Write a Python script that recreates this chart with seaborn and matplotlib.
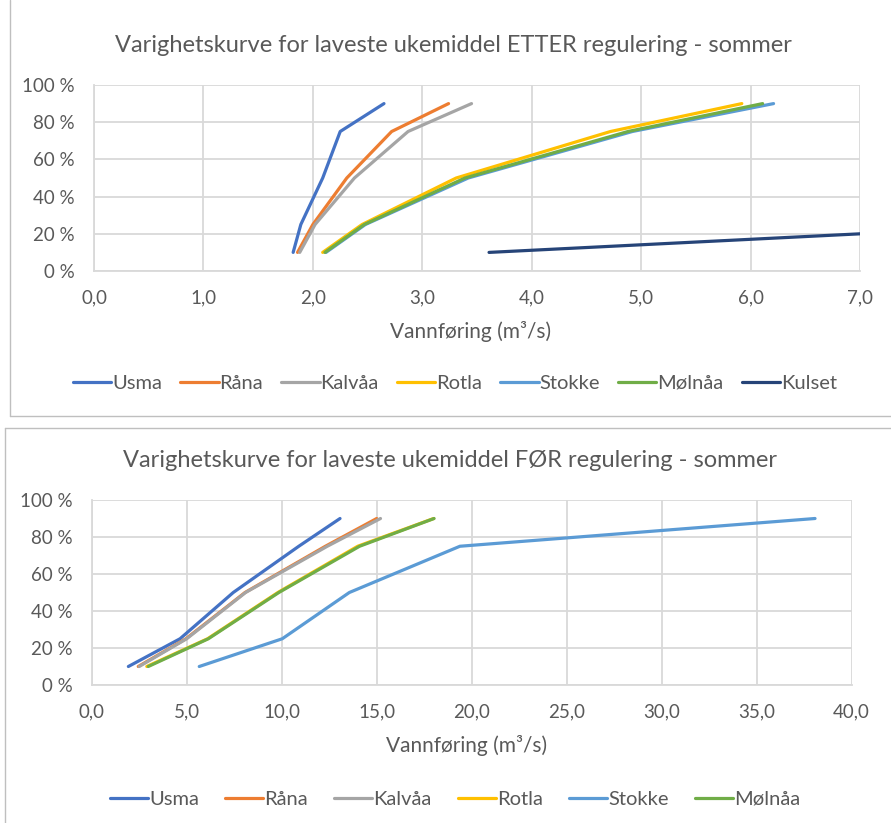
import matplotlib
matplotlib.use("Agg")
import matplotlib.pyplot as plt
from matplotlib.ticker import FuncFormatter, MultipleLocator
from matplotlib.lines import Line2D
import numpy as np
import pandas as pd
import seaborn as sns

# Duration levels (share of time) shared by all series
levels = [0.10, 0.25, 0.50, 0.75, 0.90]

# Discharge (m3/s) after regulation, summer
etter_usma = [1.82, 1.89, 2.09, 2.25, 2.65]
etter_rana = [1.86, 2.00, 2.31, 2.72, 3.24]
etter_kalvaa = [1.88, 2.02, 2.38, 2.87, 3.45]
etter_rotla = [2.09, 2.45, 3.31, 4.72, 5.92]
etter_stokke = [2.12, 2.48, 3.42, 4.92, 6.21]
etter_molnaa = [2.11, 2.47, 3.39, 4.88, 6.11]
etter_kulset_levels = [0.10, 0.25]
etter_kulset = [3.61, 8.70]

# Discharge (m3/s) before regulation, summer
for_usma = [1.93, 4.65, 7.45, 10.90, 13.07]
for_rana = [2.45, 4.96, 8.07, 12.30, 15.00]
for_kalvaa = [2.50, 5.00, 8.10, 12.40, 15.20]
for_rotla = [2.90, 6.10, 9.80, 14.00, 18.00]
for_stokke = [5.66, 10.03, 13.56, 19.38, 38.07]
for_molnaa = [2.98, 6.14, 9.85, 14.10, 18.02]

names = ["Usma", "Råna", "Kalvåa", "Rotla", "Stokke", "Mølnåa", "Kulset"]
colors = ["#4472C4", "#ED7D31", "#A5A5A5", "#FFC000", "#5B9BD5", "#70AD47", "#264478"]
palette = dict(zip(names, colors))

title_top = "Varighetskurve for laveste ukemiddel ETTER regulering - sommer"
title_bottom = "Varighetskurve for laveste ukemiddel FØR regulering - sommer"
xlabel = "Vannføring (m³/s)"


def frame(series):
    rows = []
    for name, xs, ys in series:
        for x, y in zip(xs, ys):
            rows.append({"stasjon": name, "q": x, "p": y})
    return pd.DataFrame(rows)


df_top = frame([
    ("Usma", etter_usma, levels),
    ("Råna", etter_rana, levels),
    ("Kalvåa", etter_kalvaa, levels),
    ("Rotla", etter_rotla, levels),
    ("Stokke", etter_stokke, levels),
    ("Mølnåa", etter_molnaa, levels),
    ("Kulset", etter_kulset, etter_kulset_levels),
])
df_bottom = frame([
    ("Usma", for_usma, levels),
    ("Råna", for_rana, levels),
    ("Kalvåa", for_kalvaa, levels),
    ("Rotla", for_rotla, levels),
    ("Stokke", for_stokke, levels),
    ("Mølnåa", for_molnaa, levels),
])

sns.set_style("white")
plt.rcParams["font.family"] = ["Lato", "DejaVu Sans"]
TXT = "#595959"
GRID = "#D9D9D9"

W, H = 891, 823
fig = plt.figure(figsize=(W / 100, H / 100), dpi=100)


def fx(px):
    return px / W


def fy(py):
    return 1 - py / H


# chart borders
fig.add_artist(Line2D([fx(10), fx(10)], [fy(0), fy(416)], color="#BFBFBF", lw=1))
fig.add_artist(Line2D([fx(10), 1], [fy(416), fy(416)], color="#BFBFBF", lw=1))
fig.add_artist(Line2D([fx(5), 1], [fy(428), fy(428)], color="#BFBFBF", lw=1))
fig.add_artist(Line2D([fx(5), fx(5)], [fy(428), 0], color="#BFBFBF", lw=1))


def style_axes(ax, xmax, xstep):
    ax.set_xlim(0, xmax)
    ax.set_ylim(0, 1.0)
    ax.xaxis.set_major_locator(MultipleLocator(xstep))
    ax.yaxis.set_major_locator(MultipleLocator(0.2))
    ax.xaxis.set_major_formatter(FuncFormatter(lambda v, _: f"{v:.1f}".replace(".", ",")))
    ax.yaxis.set_major_formatter(FuncFormatter(lambda v, _: f"{v * 100:.0f} %"))
    ax.grid(True, color=GRID, lw=1.3)
    ax.set_axisbelow(True)
    for s in ["top", "right"]:
        ax.spines[s].set_visible(False)
    for s in ["left", "bottom"]:
        ax.spines[s].set_color(GRID)
        ax.spines[s].set_linewidth(1.3)
    ax.tick_params(axis="both", length=0, labelsize=13.5, labelcolor=TXT)
    ax.tick_params(axis="y", pad=14)
    ax.tick_params(axis="x", pad=13)
    ax.set_xlabel("")
    ax.set_ylabel("")


legend_kw = dict(loc="center", frameon=False, fontsize=14.5, labelcolor=TXT,
                 handlelength=1.9, handletextpad=0.05)

# top chart
ax1 = fig.add_axes([fx(94), fy(271), fx(860 - 94), (271 - 85) / H])
sns.lineplot(data=df_top, x="q", y="p", hue="stasjon", hue_order=names, palette=palette,
             sort=False, estimator=None, lw=2.3, ax=ax1, legend=False)
style_axes(ax1, 7.0, 1.0)
fig.text(fx(453), fy(45), title_top, ha="center", va="center", fontsize=17, color=TXT)
fig.text(fx(471), fy(331), xlabel, ha="center", va="center", fontsize=15, color=TXT)
h1 = [Line2D([], [], color=palette[n], lw=2.3) for n in names]
fig.legend(h1, names, bbox_to_anchor=(fx(455), fy(383)), ncol=7, columnspacing=0.9, **legend_kw)

# bottom chart
names_b = names[:6]
ax2 = fig.add_axes([fx(91.7), fy(685), fx(851.7 - 91.7), (685 - 500) / H])
sns.lineplot(data=df_bottom, x="q", y="p", hue="stasjon", hue_order=names_b, palette=palette,
             sort=False, estimator=None, lw=2.3, ax=ax2, legend=False)
style_axes(ax2, 40.0, 5.0)
fig.text(fx(450), fy(461), title_bottom, ha="center", va="center", fontsize=17, color=TXT)
fig.text(fx(467), fy(745), xlabel, ha="center", va="center", fontsize=15, color=TXT)
h2 = [Line2D([], [], color=palette[n], lw=2.3) for n in names_b]
fig.legend(h2, names_b, bbox_to_anchor=(fx(455), fy(799)), ncol=6, columnspacing=1.3, **legend_kw)

fig.savefig("out.png", dpi=100, facecolor="white")
